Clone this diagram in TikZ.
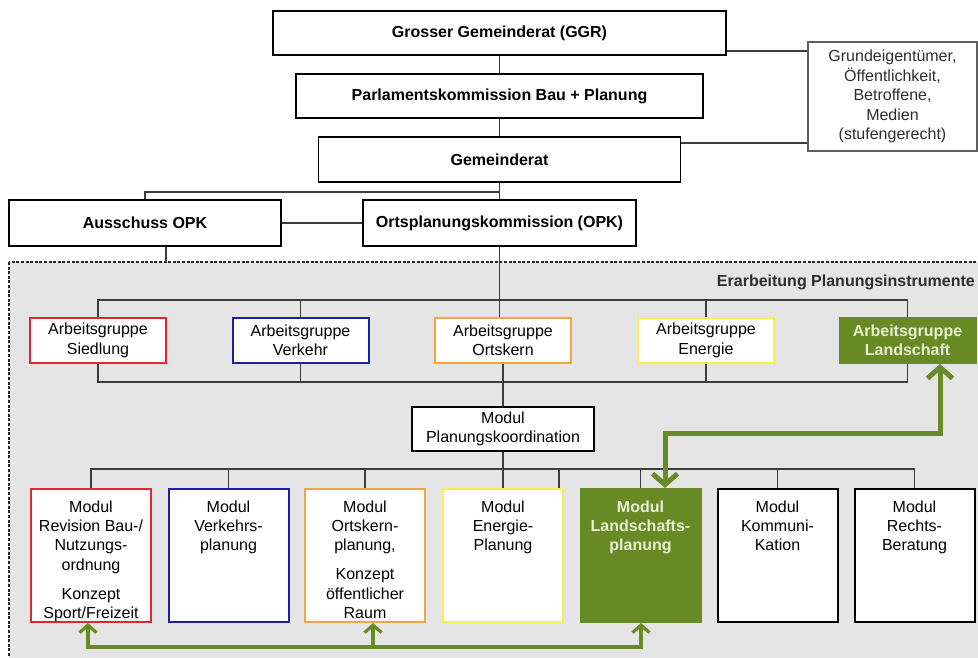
\documentclass[tikz,border=0pt]{standalone}
\usepackage{fontspec}
\setmainfont{Liberation Sans}
\usetikzlibrary{arrows.meta}
\definecolor{bggray}{RGB}{229,229,229}
\definecolor{lgreen}{RGB}{104,138,36}
\definecolor{gtext}{RGB}{232,240,212}
\definecolor{cred}{RGB}{222,40,56}
\definecolor{cblue}{RGB}{30,30,170}
\definecolor{corange}{RGB}{240,165,70}
\definecolor{cyellow}{RGB}{245,240,80}
\definecolor{lgray}{RGB}{60,60,60}
\definecolor{midgray}{RGB}{95,95,95}
\definecolor{textgray}{RGB}{45,45,45}
\newcommand{\modtxt}[1]{\parbox[c][133pt][t]{120pt}{\centering\rule{0pt}{23pt}#1}}
\begin{document}
\begin{tikzpicture}[x=1pt,y=-1pt,
  every node/.style={font=\fontsize{16}{19.4}\selectfont, inner sep=0pt},
  topbox/.style={draw=black, line width=1.8pt, fill=white, font=\fontsize{16}{19.4}\selectfont\bfseries},
  agbox/.style={draw=#1, line width=2pt, fill=white, minimum width=136pt, minimum height=45pt, align=center},
  modbox/.style={draw=#1, line width=2pt, fill=white},
  conn/.style={draw=lgray, line width=1.2pt},
  garrowA/.style={draw=lgreen, line width=5pt, {Straight Barb[length=11pt,width=25pt]}-{Straight Barb[length=11pt,width=25pt]}},
  garrowB/.style={draw=lgreen, line width=3.2pt, {Straight Barb[length=7.5pt,width=17pt]}-{Straight Barb[length=7.5pt,width=17pt]}},
  garrowC/.style={draw=lgreen, line width=3.2pt, -{Straight Barb[length=7.5pt,width=17pt]}}
]
\useasboundingbox (0,0) rectangle (978,658);
\clip (0,0) rectangle (978,658);
% working area
\draw[fill=bggray, draw=black!85, line width=1.3pt, dash pattern=on 3pt off 1.6pt] (9,262) rectangle (995,675);

% upper hierarchy
\node[topbox, minimum width=453pt, minimum height=44pt] (ggr) at (499.5,33) {Grosser Gemeinderat (GGR)};
\node[topbox, minimum width=407pt, minimum height=44pt] (parl) at (499.5,96) {Parlamentskommission Bau + Planung};
\node[topbox, minimum width=362pt, minimum height=45pt] (gem) at (499.5,159.5) {Gemeinderat};
\node[topbox, minimum width=272pt, minimum height=46pt] (aus) at (145,223) {Ausschuss OPK};
\node[topbox, minimum width=273pt, minimum height=46pt] (opk) at (499.5,223) {Ortsplanungskommission (OPK)};
\node[draw=midgray, line width=1.3pt, fill=white, minimum width=169pt, minimum height=109pt, align=center, text=textgray] (grund) at (892.5,96.5) {Grundeigentümer,\\Öffentlichkeit,\\Betroffene,\\Medien\\(stufengerecht)};

\node[anchor=east, font=\fontsize{16}{19.4}\selectfont\bfseries, text=textgray] (title) at (975,282) {Erarbeitung Planungsinstrumente};

% Arbeitsgruppen
\node[agbox=cred] (ag1) at (98,340.5) {Arbeitsgruppe\\Siedlung};
\node[agbox=cblue] (ag2) at (300.5,340.5) {Arbeitsgruppe\\Verkehr};
\node[agbox=corange] (ag3) at (503,340.5) {Arbeitsgruppe\\Ortskern};
\node[agbox=cyellow] (ag4) at (706,340.5) {Arbeitsgruppe\\Energie};
\node[agbox=lgreen, fill=lgreen, text=gtext, font=\fontsize{16}{19.4}\selectfont\bfseries] (ag5) at (907.5,340.5) {Arbeitsgruppe\\Landschaft};

\node[draw=black, line width=1.8pt, fill=white, minimum width=182pt, minimum height=44pt, align=center] (pk) at (503,429) {Modul\\Planungskoordination};

% Module
\node[modbox=cred] (m1) at (91,555.5) {\modtxt{Modul\\Revision Bau-/\\Nutzungs-\\ordnung\\[9.4pt]Konzept\\Sport/Freizeit}};
\node[modbox=cblue] (m2) at (228.5,555.5) {\modtxt{Modul\\Verkehrs-\\planung}};
\node[modbox=corange] (m3) at (365,555.5) {\modtxt{Modul\\Ortskern-\\planung,\\[9.4pt]Konzept\\öffentlicher\\Raum}};
\node[modbox=cyellow] (m4) at (503,555.5) {\modtxt{Modul\\Energie-\\Planung}};
\node[modbox=lgreen, fill=lgreen, text=gtext, font=\fontsize{16}{19.4}\selectfont\bfseries] (m5) at (640.5,555.5) {\modtxt{Modul\\Landschafts-\\planung}};
\node[modbox=black] (m6) at (777.5,555.5) {\modtxt{Modul\\Kommuni-\\Kation}};
\node[modbox=black] (m7) at (914.5,555.5) {\modtxt{Modul\\Rechts-\\Beratung}};

% connectors upper part
\coordinate (j1) at (499.5,192);
\coordinate (ausd) at (166,262);
\coordinate (gl1) at (0,51);
\coordinate (gl2) at (0,143);
\draw[conn] (ggr.south) -- (parl.north);
\draw[conn] (parl.south) -- (gem.north);
\draw[conn] (gem.south) -- (opk.north);
\draw[conn] (aus.north) |- (j1);
\draw[conn] (aus.east) -- (opk.west);
\draw[conn] (aus.south -| ausd) -- (ausd);
\draw[conn] (ggr.east |- gl1) -- (grund.west |- gl1);
\draw[conn] (gem.east |- gl2) -- (grund.west |- gl2);

% connectors Arbeitsgruppen
\coordinate (agt) at (0,300);
\coordinate (agb) at (0,382);
\draw[conn] (opk.south) -- (opk.south |- ag3.north);
\draw[conn] (ag1.north) |- (agt -| ag5.north) -- (ag5.north);
\draw[conn] (ag2.north) -- (ag2.north |- agt);
\draw[conn] (ag4.north) -- (ag4.north |- agt);
\draw[conn] (ag1.south) |- (agb -| ag5.south) -- (ag5.south);
\draw[conn] (ag2.south) -- (ag2.south |- agb);
\draw[conn] (ag4.south) -- (ag4.south |- agb);
\draw[conn] (ag3.south) -- (pk.north);

% connectors Module
\coordinate (mb) at (0,469);
\coordinate (mx) at (559,469);
\draw[conn] (pk.south) -- (m4.north);
\draw[conn] (m1.north) |- (mb -| m7.north) -- (m7.north);
\foreach \m in {m2,m3,m5,m6} \draw[conn] (\m.north) -- (\m.north |- mb);
\draw[conn] (mx) -- (mx |- m4.north);

% green arrows
\coordinate (a1) at (940,433);
\coordinate (a2) at (665,433);
\draw[garrowA] (a1 |- ag5.south) -- (a1) -- (a2) -- (a2 |- m5.north);
\coordinate (b1) at (88,647);
\coordinate (b2) at (373,647);
\coordinate (b3) at (641,647);
\draw[garrowB] (b1 |- m1.south) -- (b1) -- (b3) -- (b3 |- m5.south);
\draw[garrowC] (b2) -- (b2 |- m3.south);
\end{tikzpicture}
\end{document}
